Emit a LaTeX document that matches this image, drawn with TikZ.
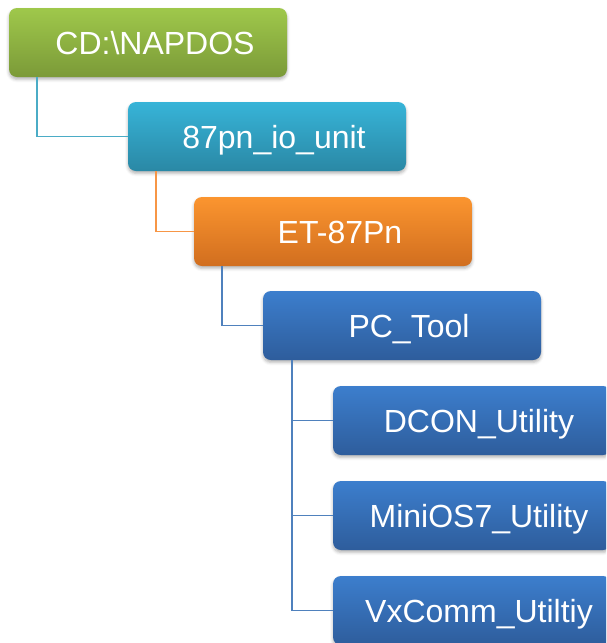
\documentclass[tikz,border=0pt]{standalone}
\usepackage{fontspec}
\setmainfont{Liberation Sans}
\usepackage{xcolor}
\definecolor{cGreenTop}{HTML}{9FC84B}
\definecolor{cGreenBot}{HTML}{7B9A38}
\definecolor{cCyanTop}{HTML}{37B4D8}
\definecolor{cCyanBot}{HTML}{2A88A5}
\definecolor{cOrangeTop}{HTML}{FB952F}
\definecolor{cOrangeBot}{HTML}{D16E1F}
\definecolor{cBlueTop}{HTML}{3C7ECD}
\definecolor{cBlueBot}{HTML}{2E5D9C}
\definecolor{cCyanLine}{HTML}{4BACC6}
\definecolor{cOrangeLine}{HTML}{F79646}
\definecolor{cBlueLine}{HTML}{4F81BD}
\usetikzlibrary{positioning,shadows.blur}
\tikzset{
  dir-box/.style={rounded corners=4pt,minimum width=139pt,minimum height=34.5pt,
    inner sep=0pt,outer sep=0pt,text=white,font=\fontsize{16}{19}\selectfont,
    text height=11.5pt,text depth=0pt,execute at begin node=\hspace*{7pt},
    blur shadow={shadow xshift=0pt,shadow yshift=-1.2pt,shadow blur radius=1.5pt,
      shadow opacity=30}},
  dir-green/.style={top color=cGreenTop,bottom color=cGreenBot},
  dir-cyan/.style={top color=cCyanTop,bottom color=cCyanBot},
  dir-orange/.style={top color=cOrangeTop,bottom color=cOrangeBot},
  dir-blue/.style={top color=cBlueTop,bottom color=cBlueBot},
  link-cyan/.style={draw=cCyanLine,line width=0.9pt},
  link-orange/.style={draw=cOrangeLine,line width=0.9pt},
  link-blue/.style={draw=cBlueLine,line width=0.9pt},
}
\begin{document}
\begin{tikzpicture}
  \useasboundingbox (0,0) rectangle (303pt,-321.5pt);
  \clip (0,0) rectangle (303pt,-321.5pt);
  % folder chain
  \node[dir-box,dir-green,anchor=north west] (napdos) at (4.5pt,-4pt) {CD:\textbackslash NAPDOS};
  \node[dir-box,dir-cyan,below right=12.5pt and 59.5pt of napdos.south west] (iounit) {87pn\_io\_unit};
  \node[dir-box,dir-orange,below right=13pt and 33pt of iounit.south west] (et) {ET-87Pn};
  \node[dir-box,dir-blue,below right=12.5pt and 34.5pt of et.south west] (pctool) {PC\_Tool};
  % utilities
  \node[dir-box,dir-blue,below right=13pt and 35pt of pctool.south west] (dcon) {DCON\_Utility};
  \node[dir-box,dir-blue,below=13pt of dcon] (minios) {MiniOS7\_Utility};
  \node[dir-box,dir-blue,below=13pt of minios] (vxcomm) {VxComm\_Utiltiy};
  \draw[link-cyan] ([xshift=14pt]napdos.south west) |- (iounit.west);
  \draw[link-orange] ([xshift=14pt]iounit.south west) |- (et.west);
  \draw[link-blue] ([xshift=14pt]et.south west) |- (pctool.west);
  \draw[link-blue] ([xshift=14.5pt]pctool.south west) |- (dcon.west);
  \draw[link-blue] ([xshift=14.5pt]pctool.south west) |- (minios.west);
  \draw[link-blue] ([xshift=14.5pt]pctool.south west) |- (vxcomm.west);
\end{tikzpicture}
\end{document}
